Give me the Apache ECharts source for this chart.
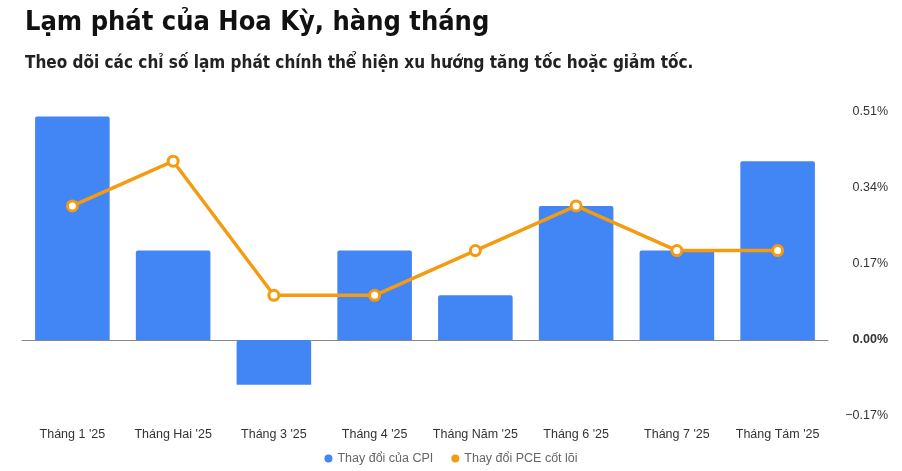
<!DOCTYPE html>
<html><head><meta charset="utf-8">
<script src="https://cdn.jsdelivr.net/npm/echarts@6/dist/echarts.min.js"></script>
<style>html,body{margin:0;padding:0;background:#fff;}#c{width:902px;height:471px;}</style>
</head><body><div id="c"></div>
<script>
var categories = ["Tháng 1 '25","Tháng Hai '25","Tháng 3 '25","Tháng 4 '25","Tháng Năm '25","Tháng 6 '25","Tháng 7 '25","Tháng Tám '25"];
var cpiValues = [0.5, 0.2, -0.1, 0.2, 0.1, 0.3, 0.2, 0.4];
var pceValues = [0.3, 0.4, 0.1, 0.1, 0.2, 0.3, 0.2, 0.2];
var seriesNames = ["Thay đổi của CPI", "Thay đổi PCE cốt lõi"];
var yTicks = [-0.17, 0, 0.17, 0.34, 0.51];
var barColor = '#4285F4';
var lineColor = '#F59B12';

var chart = echarts.init(document.getElementById('c'));
chart.setOption({
  animation: false,
  backgroundColor: '#fff',
  title: [{
    text: 'Lạm phát của Hoa Kỳ, hàng tháng',
    left: 20, top: 4,
    textStyle: {fontFamily: 'DejaVu Sans Condensed', fontWeight: 'bold', fontSize: 27, color: '#111'}
  },{
    text: 'Theo dõi các chỉ số lạm phát chính thể hiện xu hướng tăng tốc hoặc giảm tốc.',
    left: 20, top: 50,
    textStyle: {fontFamily: 'DejaVu Sans Condensed', fontWeight: 600, fontSize: 17, color: '#222'}
  }],
  legend: {
    bottom: 1, left: 'center',
    icon: 'circle', itemWidth: 8, itemHeight: 8, itemGap: 18,
    textStyle: {fontFamily: 'Liberation Sans', fontSize: 12.5, color: '#666'},
    data: [
      {name: seriesNames[0], itemStyle: {color: barColor}},
      {name: seriesNames[1], itemStyle: {color: lineColor, borderWidth: 0}}
    ]
  },
  grid: {left: 22, right: 74, top: 112, bottom: 55, containLabel: false},
  xAxis: {
    type: 'category', data: categories,
    axisLine: {show: true, onZero: true, lineStyle: {color: '#888', width: 1}},
    axisTick: {show: false},
    axisLabel: {
      fontFamily: 'Liberation Sans', fontSize: 12.5, color: '#333',
      interval: 0, margin: 12
    },
    position: 'bottom'
  },
  yAxis: {
    type: 'value', position: 'right',
    min: yTicks[0], max: yTicks[yTicks.length - 1], interval: 0.17,
    splitLine: {show: false},
    axisLine: {show: false}, axisTick: {show: false},
    axisLabel: {
      align: 'right', margin: 60,
      fontFamily: 'Liberation Sans', fontSize: 12.5, color: '#333',
      formatter: function (v) {
        if (Math.abs(v) < 1e-9) return '{z|0.00%}';
        return (v < 0 ? '−' : '') + Math.abs(v).toFixed(2) + '%';
      },
      rich: {z: {fontFamily: 'Liberation Sans', fontSize: 12.5, fontWeight: 'bold', color: '#333'}}
    }
  },
  series: [{
    name: seriesNames[0], type: 'bar', data: cpiValues,
    barWidth: '74%',
    itemStyle: {color: barColor, borderRadius: [2, 2, 0, 0]},
    z: 2
  },{
    name: seriesNames[1], type: 'line', data: pceValues,
    color: lineColor,
    lineStyle: {color: lineColor, width: 3.5},
    symbol: 'circle', symbolSize: 10,
    itemStyle: {color: '#fff', borderColor: lineColor, borderWidth: 3},
    z: 3
  }]
});
</script></body></html>
